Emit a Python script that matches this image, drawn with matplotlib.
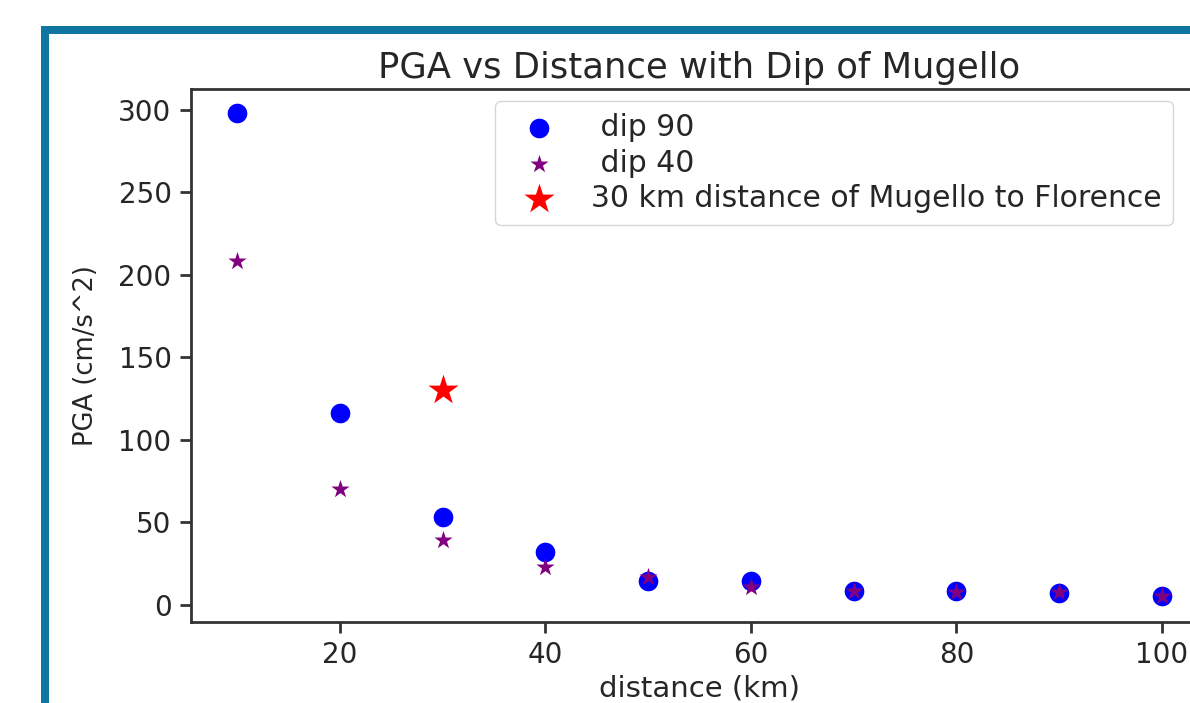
import matplotlib
matplotlib.use("Agg")
import matplotlib.pyplot as plt
from matplotlib.patches import Rectangle

# values
distance = [10, 20, 30, 40, 50, 60, 70, 80, 90, 100]
pga_dip90 = [298, 116, 53, 32, 14.5, 14.5, 8.5, 8, 7, 5.5]
pga_dip40 = [208, 70, 39, 23, 16.5, 11, 8.5, 7.5, 7.5, 5]
florence_x = [30]
florence_y = [130]

W, H = 1190, 703
fig = plt.figure(figsize=(W / 100, H / 100), dpi=100)

# blue screenshot frame (runs off the right and bottom edge)
fig.patches.append(Rectangle((41 / W, -0.1), 1.2, 1 - 26 / H + 0.1,
                             transform=fig.transFigure, facecolor='#0e76a0',
                             edgecolor='none', zorder=-2))
fig.patches.append(Rectangle((49 / W, -0.1), 1.2, 1 - 34 / H + 0.1,
                             transform=fig.transFigure, facecolor='white',
                             edgecolor='none', zorder=-1))

left, right, top, bottom = 191, 1208, 89, 622
ax = fig.add_axes([left / W, 1 - bottom / H, (right - left) / W, (bottom - top) / H])
ax.set_facecolor('white')

ax.scatter(distance, pga_dip90, s=200, c='blue', linewidths=0, label=' dip 90')
ax.scatter(distance, pga_dip40, s=190, c='purple', marker='*', linewidths=0, label=' dip 40')
ax.scatter(florence_x, florence_y, s=520, c='red', marker='*', linewidths=0,
           label='30 km distance of Mugello to Florence')

ax.set_xlim(5.5, 104.5)
ax.set_ylim(-10.5, 312.5)
ax.set_xticks([20, 40, 60, 80, 100])
ax.set_yticks([0, 50, 100, 150, 200, 250, 300])

txt = '#262626'
for sp in ax.spines.values():
    sp.set_linewidth(2)
    sp.set_color('#333333')
ax.tick_params(labelsize=20, length=8, width=2, colors='#333333', labelcolor=txt, pad=6)

ax.set_title('PGA vs Distance with Dip of Mugello', fontsize=25.5, color=txt, pad=8)
ax.set_xlabel('distance (km)', fontsize=21, color=txt, labelpad=4)
ax.set_ylabel('PGA (cm/s^2)', fontsize=18.5, color=txt, labelpad=14)

leg = ax.legend(loc='upper left', bbox_to_anchor=(495 / W, 1 - 101 / H),
                bbox_transform=fig.transFigure, borderaxespad=0, fontsize=21.5,
                labelspacing=0.22, handletextpad=0.65, handlelength=2.15,
                borderpad=0.4, scatterpoints=1, fancybox=True, framealpha=0.8,
                edgecolor='#cccccc')
for t in leg.get_texts():
    t.set_color(txt)

fig.savefig('out.png', dpi=100)
